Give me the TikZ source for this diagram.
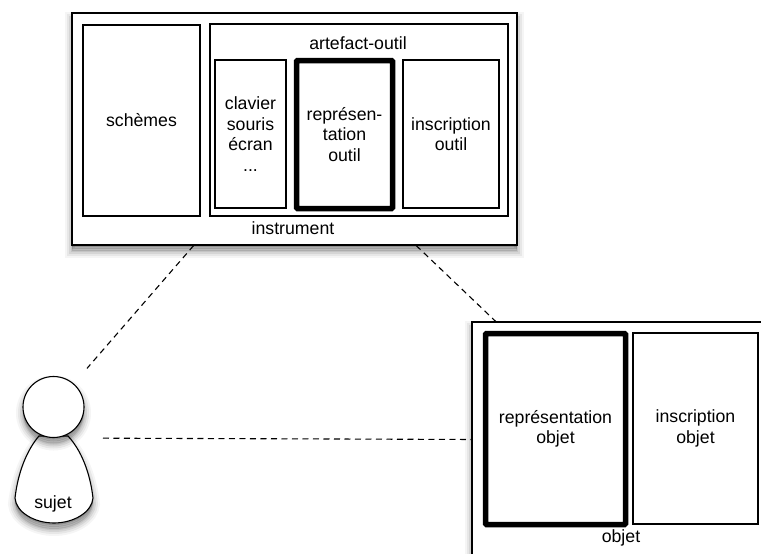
\documentclass[tikz,border=0pt]{standalone}
\usepackage{fontspec}
\setmainfont{Liberation Sans}
\usetikzlibrary{positioning}
\tikzset{
    softshadow/.style = {
        preaction={draw=black,draw opacity=.04,line width=14pt,transform canvas={yshift=-6pt}},
        preaction={draw=black,draw opacity=.06,line width=10pt,transform canvas={yshift=-6pt}},
        preaction={draw=black,draw opacity=.08,line width=6pt,transform canvas={yshift=-6pt}},
        preaction={draw=black,draw opacity=.08,line width=2.5pt,transform canvas={yshift=-6pt}},
        preaction={fill=black,fill opacity=.12,transform canvas={yshift=-6pt}},
        preaction={fill=black,fill opacity=.14,transform canvas={yshift=-4pt}},
        preaction={fill=black,fill opacity=.16,transform canvas={yshift=-2pt}}
    },
    frame/.style = {
        rectangle,
        draw=black,
        fill=white,
        line width=1.1pt,
        inner sep=0pt,
        align=center,
        softshadow
    },
    part/.style = {
        rectangle,
        draw=black,
        fill=white,
        line width=1.1pt,
        inner sep=0pt,
        align=center
    },
    partbold/.style = {
        part,
        line width=5.5pt,
        rounded corners=1pt
    },
    caption/.style = {inner sep=0pt},
    link/.style = {
        draw=black,
        line width=1.1pt,
        dash pattern=on 6pt off 4.5pt
    }
}
\begin{document}
\begin{tikzpicture}[x=1pt,y=-1pt,font=\fontsize{17.7}{20.4}\selectfont]
\useasboundingbox (0,0) rectangle (761,554);

\node[frame,minimum width=445pt,minimum height=232pt] (instrument) at (294.5,129) {};
\node[frame,minimum width=294pt,minimum height=236pt] (objet)      at (619,440)   {};

\node[part,minimum width=117pt,minimum height=191pt] (schemes) at (141.5,120.5) {schèmes};
\node[part,minimum width=298pt,minimum height=192pt] (artefact) at (359,120) {};
\node[caption] (artefactlabel) at (358,43) {artefact-outil};
\node[part,minimum width=71pt,minimum height=148pt] (clavier) at (250.5,134)
{clavier\\souris\\écran\\...};
\node[partbold,minimum width=96pt,minimum height=148pt] (repoutil) at (344.5,134.5)
{représen-\\tation\\outil};
\node[part,minimum width=96pt,minimum height=148pt] (insoutil) at (451,134)
{inscription\\outil};
\node[caption] (instrumentlabel) at (293,228) {instrument};

\node[partbold,minimum width=140pt,minimum height=191pt] (repobjet) at (555.5,429)
{représentation\\objet};
\node[part,minimum width=125pt,minimum height=191pt] (insobjet) at (695.5,428.5)
{inscription\\objet};
\node[caption] (objetlabel) at (621,538) {objet};

% sujet
\draw[softshadow,draw=black,fill=white,line width=1.1pt]
    (39,436) .. controls (27,450) and (18,472) .. (15,498)
    .. controls (16,512) and (34,523) .. (54,523)
    .. controls (74,523) and (92,512) .. (93,498)
    .. controls (90,472) and (81,450) .. (68,436) -- cycle;
\node[frame,circle,minimum size=61pt] (head) at (53.5,407) {};
\node[caption] (sujet) at (53,503.5) {sujet};
\coordinate (person) at (53.5,438);

\draw[link,shorten >=20pt] (instrument) -- (head);
\draw[link]                (instrument) -- (objet);
\draw[link,shorten <=49.5pt] (person)   -- (objet);
\end{tikzpicture}
\end{document}
